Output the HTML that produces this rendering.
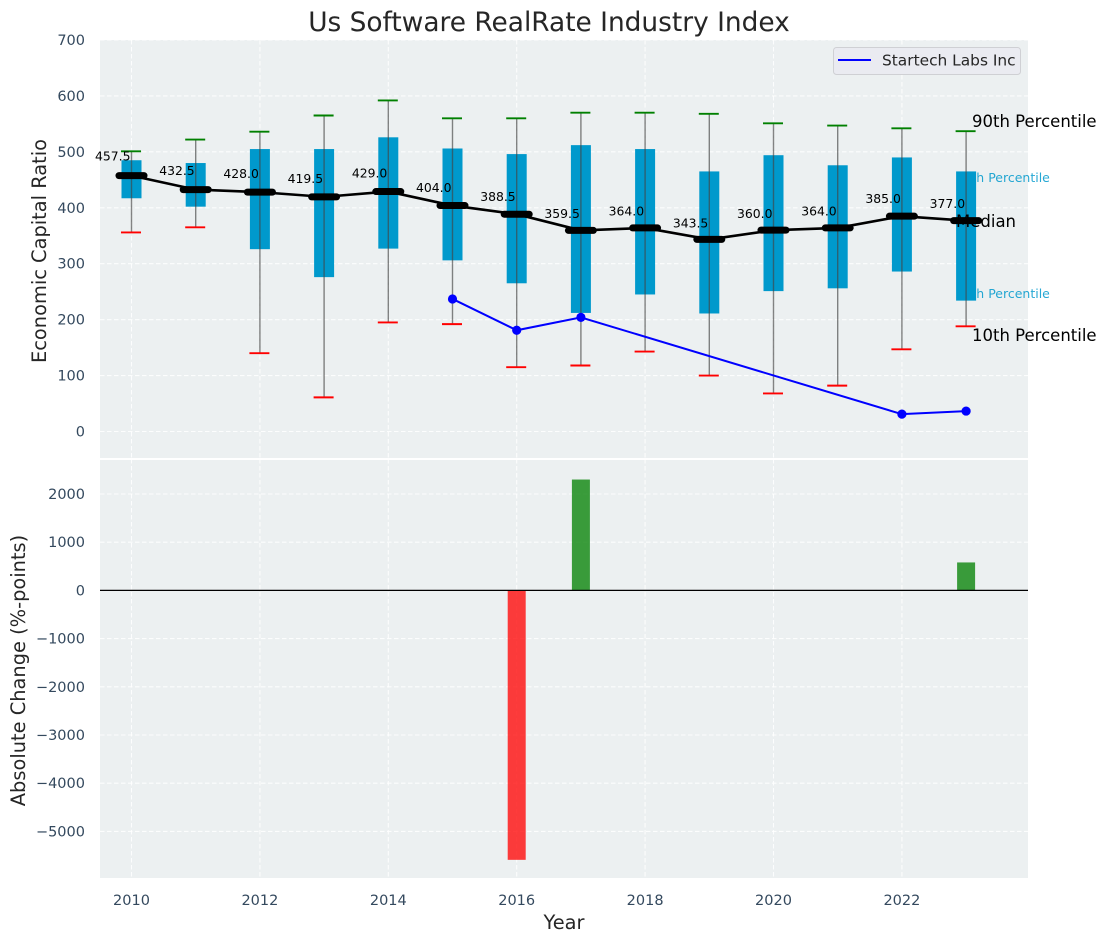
<!DOCTYPE html>
<html>
<head>
<meta charset="utf-8">
<title>Us Software RealRate Industry Index</title>
<style>
html,body{margin:0;padding:0;background:#fff;}
svg{display:block;}
text{font-family:"DejaVu Sans","Liberation Sans",sans-serif;}
</style>
</head>
<body>
<svg id="chart" width="1107" height="942" viewBox="0 0 1107 942" xmlns="http://www.w3.org/2000/svg">
  <rect x="100" y="40" width="928" height="419" fill="#ecf0f1"/>
  <rect x="100" y="459" width="928" height="419" fill="#ecf0f1"/>
  <g id="grid"></g>
  <g id="ticks"></g>
  <line x1="100" x2="1028" y1="459" y2="459" stroke="#fff" stroke-width="2"/>
  <g id="annotations-under">
    <text x="955.5" y="182" font-size="12.5" fill="#0099cc" fill-opacity="0.85">75th Percentile</text>
    <text x="955.5" y="298" font-size="12.5" fill="#0099cc" fill-opacity="0.85">25th Percentile</text>
  </g>
  <g id="bars"></g>
  <g id="boxes"></g>
  <g id="median-series"></g>
  <g id="company-series"></g>
  <g id="change-bars"></g>
  <line x1="100" x2="1028" y1="590.4" y2="590.4" stroke="#000" stroke-width="1.2"/>
  <text x="972" y="127" font-size="16.5" fill="#000">90th Percentile</text>
  <text x="956" y="227" font-size="16.5" fill="#000">Median</text>
  <text x="972" y="341" font-size="16.5" fill="#000">10th Percentile</text>
  <g>
    <rect x="833.5" y="47.5" width="187" height="27" rx="3" fill="#eaebf1" stroke="#cfd0d4" stroke-width="1"/>
    <line x1="838" x2="871" y1="60" y2="60" stroke="#0000ff" stroke-width="2"/>
    <text x="882" y="65.5" font-size="15.4" fill="#262626">Startech Labs Inc</text>
  </g>
  <text x="549" y="31" font-size="26.4" fill="#262626" text-anchor="middle">Us Software RealRate Industry Index</text>
  <text x="46" y="251" font-size="19.4" fill="#262626" text-anchor="middle" transform="rotate(-90 46 251)">Economic Capital Ratio</text>
  <text x="25" y="670.5" font-size="19.4" fill="#262626" text-anchor="middle" transform="rotate(-90 25 670.5)">Absolute Change (%-points)</text>
  <text x="564" y="929" font-size="19.4" fill="#262626" text-anchor="middle">Year</text>
</svg>
<script>
const years = [2010,2011,2012,2013,2014,2015,2016,2017,2018,2019,2020,2021,2022,2023];
const p90 = [501,522,536,565,592,560,560,570,570,568,551,547,542,537];
const p75 = [485,480,505,505,526,506,496,512,505,465,494,476,490,465];
const median = [457.5,432.5,428,419.5,429,404,388.5,359.5,364,343.5,360,364,385,377];
const p25 = [417,402,326,276,327,306,265,212,245,211,251,256,286,234];
const p10 = [356,365,140,61,195,192,115,118,143,100,68,82,147,188];
const companyYears = [2015,2016,2017,2022,2023];
const companyValues = [237,181,204,31,36.5];
const changeYears = [2016,2017,2023];
const changeValues = [-5590,2300,580];
const xTicks = [2010,2012,2014,2016,2018,2020,2022];
const topYTicks = [0,100,200,300,400,500,600,700];
const bottomYTicks = [-5000,-4000,-3000,-2000,-1000,0,1000,2000];

const NS = "http://www.w3.org/2000/svg";
function xOf(year){ return 131.5 + (year - 2010) * 64.2; }
function yTop(v){ return 431.5 - v * 0.5593; }
function yBottom(v){ return 590.4 - v * 0.0482; }
function make(tag, parentId, attrs){
  const node = document.createElementNS(NS, tag);
  for (const k in attrs) node.setAttribute(k, attrs[k]);
  document.getElementById(parentId).appendChild(node);
  return node;
}
const dash = "4.5 2.5";

xTicks.forEach(function(t){
  const g1 = make("line","grid",{x1:xOf(t),x2:xOf(t),y1:40,y2:459,stroke:"#fff","stroke-width":1.1,"stroke-dasharray":dash,"stroke-opacity":0.85});
  
  
  const g2 = make("line","grid",{x1:xOf(t),x2:xOf(t),y1:459,y2:878,stroke:"#fff","stroke-width":1.1,"stroke-dasharray":dash,"stroke-opacity":0.85});
  
  
  const lab = make("text","ticks",{x:xOf(t),y:905,"font-size":14.5,fill:"#34495e","text-anchor":"middle"});
  
  
  lab.textContent = t;
});
topYTicks.forEach(function(t){
  const g = make("line","grid",{x1:100,x2:1028,y1:yTop(t),y2:yTop(t),stroke:"#fff","stroke-width":1.1,"stroke-dasharray":dash,"stroke-opacity":0.85});
  
  
  const lab = make("text","ticks",{x:85,y:yTop(t)+5,"font-size":14.5,fill:"#34495e","text-anchor":"end"});
  
  
  lab.textContent = t;
});
bottomYTicks.forEach(function(t){
  const g = make("line","grid",{x1:100,x2:1028,y1:yBottom(t),y2:yBottom(t),stroke:"#fff","stroke-width":1.1,"stroke-dasharray":dash,"stroke-opacity":0.85});
  
  
  const lab = make("text","ticks",{x:85,y:yBottom(t)+5,"font-size":14.5,fill:"#34495e","text-anchor":"end"});
  
  
  lab.textContent = t < 0 ? "\u2212" + Math.abs(t) : t;
});

years.forEach(function(year, i){
  const x = xOf(year);
  const box = make("rect","bars",{x:x-10,y:yTop(p75[i]),width:20,height:yTop(p25[i])-yTop(p75[i]),fill:"#0099cc"});
  
  
  const whisker = make("line","boxes",{x1:x,x2:x,y1:yTop(p90[i]),y2:yTop(p10[i]),stroke:"#444","stroke-width":1.4,"stroke-opacity":0.65});
  
  
  const hi = make("line","boxes",{x1:x-10.5,x2:x+9.5,y1:yTop(p90[i]),y2:yTop(p90[i]),stroke:"#008000","stroke-width":1.9});
  
  
  const lo = make("line","boxes",{x1:x-10.5,x2:x+9.5,y1:yTop(p10[i]),y2:yTop(p10[i]),stroke:"#ff0000","stroke-width":1.9});
  
  
});

const medianPath = make("polyline","median-series",{points:years.map(function(y,i){return xOf(y)+","+yTop(median[i]);}).join(" "),fill:"none",stroke:"#000","stroke-width":2.6});


years.forEach(function(year, i){
  const x = xOf(year), y = yTop(median[i]);
  const tick = make("line","median-series",{x1:x-12.5,x2:x+12.5,y1:y,y2:y,stroke:"#000","stroke-width":7,"stroke-linecap":"round"});
  
  
  const lab = make("text","median-series",{x:x-1,y:yTop(median[i]*1.05)-2.3,"font-size":12.4,fill:"#000","text-anchor":"end"});
  
  
  lab.textContent = median[i].toFixed(1);
});

const companyPath = make("polyline","company-series",{points:companyYears.map(function(y,i){return xOf(y)+","+yTop(companyValues[i]);}).join(" "),fill:"none",stroke:"#0000ff","stroke-width":2});


companyYears.forEach(function(year, i){
  const dot = make("circle","company-series",{cx:xOf(year),cy:yTop(companyValues[i]),r:4.6,fill:"#0000ff"});
  
  
});

changeYears.forEach(function(year, i){
  const v = changeValues[i];
  const y0 = yBottom(0), y1 = yBottom(v);
  const bar = make("rect","change-bars",{x:xOf(year)-9,y:Math.min(y0,y1),width:18,height:Math.abs(y1-y0),fill:v<0?"#ff0000":"#008000","fill-opacity":0.76});
  
  
});
</script>
</body>
</html>
